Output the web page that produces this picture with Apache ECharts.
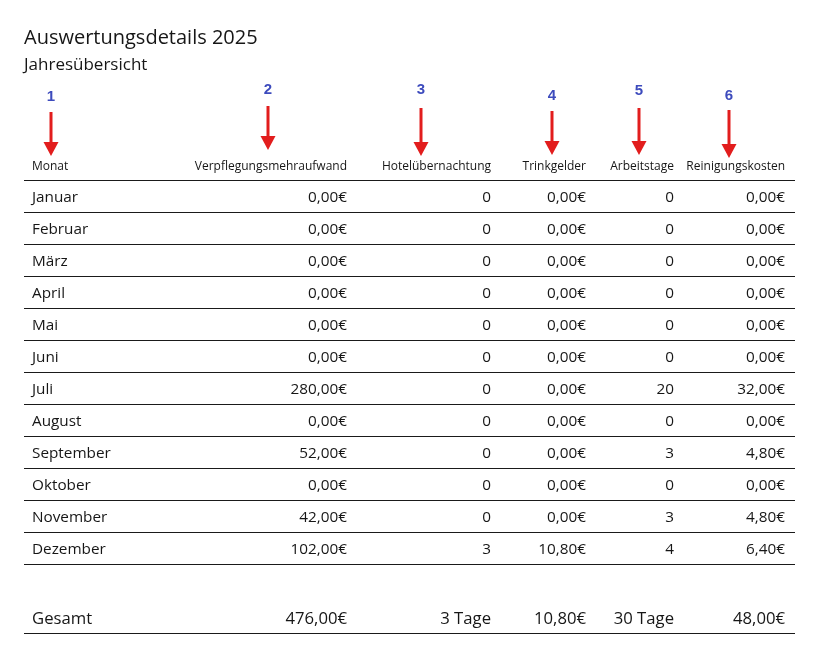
<!DOCTYPE html>
<html>
<head>
<meta charset="utf-8">
<script src="https://cdn.jsdelivr.net/npm/echarts@6/dist/echarts.min.js"></script>
<style>html,body{margin:0;padding:0;background:#fff}#c{width:838px;height:655px}</style>
</head>
<body>
<div id="c"></div>
<script>
var titleText = 'Auswertungsdetails 2025';
var subtitleText = 'Jahresübersicht';
var headers = ['Monat', 'Verpflegungsmehraufwand', 'Hotelübernachtung', 'Trinkgelder', 'Arbeitstage', 'Reinigungskosten'];
var columnNumbers = ['1', '2', '3', '4', '5', '6'];
var months = ['Januar', 'Februar', 'März', 'April', 'Mai', 'Juni', 'Juli', 'August', 'September', 'Oktober', 'November', 'Dezember'];
var verpflegung = [0, 0, 0, 0, 0, 0, 280, 0, 52, 0, 42, 102];
var hotel = [0, 0, 0, 0, 0, 0, 0, 0, 0, 0, 0, 3];
var trinkgeld = [0, 0, 0, 0, 0, 0, 0, 0, 0, 0, 0, 10.8];
var arbeitstage = [0, 0, 0, 0, 0, 0, 20, 0, 3, 0, 3, 4];
var reinigung = [0, 0, 0, 0, 0, 0, 32, 0, 4.8, 0, 4.8, 6.4];
var totalLabel = 'Gesamt';
var totals = [476, 3, 10.8, 30, 48];

// layout (positions kept separate from data)
var colLeft = 32;
var colRight = [347, 491, 586, 674, 785];
var lineX0 = 24, lineX1 = 795;
var arrowX = [51, 268, 421, 552, 639, 729];
var arrowNumY = [97, 90, 90, 96, 91, 96];
var arrowTop = [112, 106, 108, 111, 108, 110];
var arrowTip = [156, 150, 156, 155, 155, 158];

function eur(v) { return v.toFixed(2).replace('.', ',') + '€'; }

// rows: header (-1), months 0..11, total 13.156
var rows = [];
rows.push({ top: -1, kind: 'header', cells: headers });
for (var i = 0; i < months.length; i++) {
  rows.push({ top: i, kind: 'row', cells: [months[i], eur(verpflegung[i]), String(hotel[i]), eur(trinkgeld[i]), String(arbeitstage[i]), eur(reinigung[i])] });
}
rows.push({ top: 13.156, kind: 'total', cells: [totalLabel, eur(totals[0]), totals[1] + ' Tage', eur(totals[2]), totals[3] + ' Tage', eur(totals[4])] });

var FONT = "'Open Sans', sans-serif";
var TXT = '#161616';
var SIZES = { header: 12, row: 15.3, total: 16.7 };

function renderItem(params, api) {
  var r = rows[params.dataIndex];
  var top = api.value(0);
  var isHeader = r.kind === 'header';
  var ty = api.coord([0, top + (isHeader ? 0.59 : 0.56)])[1];
  var by = api.coord([0, top + 1])[1];
  var fs = SIZES[r.kind];
  var children = [];
  children.push({
    type: 'text', style: { x: api.coord([colLeft, 0])[0], y: ty, text: r.cells[0], fill: TXT, font: fs + 'px ' + FONT, textAlign: 'left', textVerticalAlign: 'middle' }
  });
  for (var c = 1; c < r.cells.length; c++) {
    children.push({
      type: 'text', style: { x: api.coord([colRight[c - 1], 0])[0], y: ty, text: r.cells[c], fill: TXT, font: fs + 'px ' + FONT, textAlign: 'right', textVerticalAlign: 'middle' }
    });
  }
  children.push({
    type: 'line',
    shape: { x1: api.coord([lineX0, 0])[0], y1: Math.round(by) + 0.5, x2: api.coord([lineX1, 0])[0], y2: Math.round(by) + 0.5 },
    style: { stroke: '#1a1a1a', lineWidth: 1.2 }
  });
  return { type: 'group', children: children };
}

var graphics = [
  { type: 'text', left: 24, top: 28, style: { text: titleText, font: '20px ' + FONT, fill: TXT } },
  { type: 'text', left: 24, top: 57, style: { text: subtitleText, font: '17px ' + FONT, fill: TXT } }
];
for (var k = 0; k < arrowX.length; k++) {
  var ax = arrowX[k], top0 = arrowTop[k], tip = arrowTip[k];
  graphics.push({ type: 'text', x: ax, y: arrowNumY[k], style: { text: columnNumbers[k], font: 'bold 15px "Liberation Sans", Arial, sans-serif', fill: '#3d4bbd', textAlign: 'center', textVerticalAlign: 'middle' } });
  graphics.push({ type: 'rect', shape: { x: ax - 1.5, y: top0, width: 3, height: (tip - 14) - top0 + 1 }, style: { fill: '#e21d1d' } });
  graphics.push({ type: 'polygon', shape: { points: [[ax - 7.5, tip - 14], [ax + 7.5, tip - 14], [ax, tip]] }, style: { fill: '#e21d1d' } });
}

var chart = echarts.init(document.getElementById('c'));
chart.setOption({
  backgroundColor: '#fff',
  animation: false,
  grid: { left: 0, right: 0, top: 180, height: 464 },
  xAxis: { type: 'value', min: 0, max: 838, show: false },
  yAxis: { type: 'value', min: 0, max: 14.5, inverse: true, show: false },
  graphic: graphics,
  series: [{
    type: 'custom',
    renderItem: renderItem,
    clip: false,
    data: rows.map(function (r) { return [r.top]; }),
    encode: { y: 0 }
  }]
});
</script>
</body>
</html>
